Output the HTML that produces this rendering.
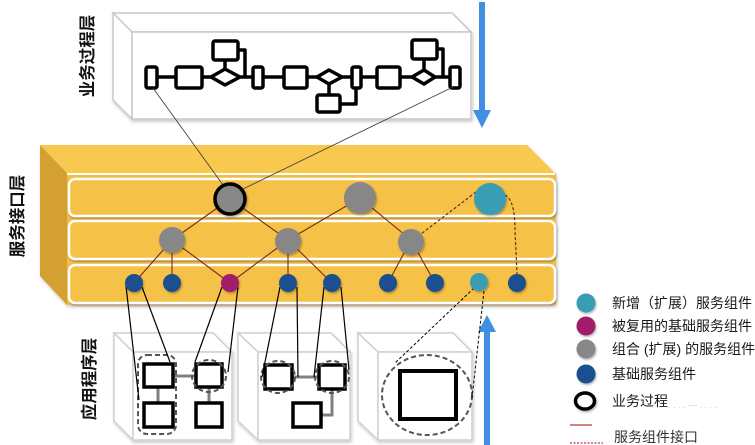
<!DOCTYPE html>
<html><head><meta charset="utf-8">
<style>
html,body{margin:0;padding:0;background:#fff;}
svg{display:block;}
text{font-family:"Liberation Sans","Noto Sans CJK SC",sans-serif;}
</style></head>
<body>
<svg width="755" height="445" viewBox="0 0 755 445" xmlns="http://www.w3.org/2000/svg">
<defs>
<filter id="sh" x="-10%" y="-10%" width="130%" height="130%"><feDropShadow dx="1" dy="2" stdDeviation="1.5" flood-color="#000" flood-opacity="0.22"/></filter>
<filter id="sh2" x="-20%" y="-20%" width="150%" height="150%"><feDropShadow dx="1" dy="1.5" stdDeviation="1" flood-color="#000" flood-opacity="0.3"/></filter>
</defs>

<!-- Vertical labels -->
<text transform="translate(93,56) rotate(-90)" text-anchor="middle" font-size="16.5" font-weight="bold" fill="#111">业务过程层</text>
<text transform="translate(23,216) rotate(-90)" text-anchor="middle" font-size="16.5" font-weight="bold" fill="#111">服务接口层</text>
<text transform="translate(95,379) rotate(-90)" text-anchor="middle" font-size="16.5" font-weight="bold" fill="#111">应用程序层</text>

<!-- Top process box -->
<g filter="url(#sh)">
<polygon points="113,13 452,13 471,32 132,32" fill="#fff" stroke="#c8c8c8" stroke-width="1.5"/>
<polygon points="113,13 132,32 132,119 113,100" fill="#fff" stroke="#c8c8c8" stroke-width="1.5"/>
<rect x="132" y="32" width="339" height="87" fill="#fff" stroke="#c8c8c8" stroke-width="1.5"/>
</g>

<!-- Process diagram -->
<g stroke="#000" stroke-width="3.5" fill="#fff" stroke-linejoin="round">
<line x1="158" y1="77" x2="176" y2="77"/>
<line x1="202" y1="77" x2="211" y2="77"/>
<line x1="240" y1="77" x2="252" y2="77"/>
<line x1="225" y1="60" x2="225" y2="69"/>
<polyline points="238,50 245,50 245,77" fill="none"/>
<line x1="263" y1="77" x2="283" y2="77"/>
<line x1="307" y1="77" x2="317" y2="77"/>
<line x1="342" y1="77" x2="352" y2="77"/>
<line x1="329" y1="84" x2="329" y2="95"/>
<polyline points="340,104 356,104 356,88" fill="none"/>
<line x1="360" y1="77" x2="377" y2="77"/>
<line x1="400" y1="77" x2="412" y2="77"/>
<line x1="434" y1="77" x2="450" y2="77"/>
<line x1="424" y1="59" x2="424" y2="70"/>
<polyline points="437,49 443,49 443,77" fill="none"/>

<rect x="146" y="67" width="11" height="21" rx="2"/>
<rect x="176" y="67" width="26" height="21" rx="2"/>
<polygon points="211,77 225,69 240,77 225,85"/>
<rect x="213" y="41" width="25" height="19" rx="2"/>
<rect x="253" y="67" width="10" height="21" rx="2"/>
<rect x="284" y="67" width="23" height="21" rx="2"/>
<polygon points="317,77 329,70 342,77 329,84"/>
<rect x="317" y="95" width="23" height="17" rx="2"/>
<rect x="352" y="67" width="9" height="21" rx="2"/>
<rect x="377" y="67" width="23" height="21" rx="2"/>
<polygon points="412,77 424,70 435,77 424,84"/>
<rect x="412" y="40" width="25" height="19" rx="2"/>
<rect x="450" y="67" width="10" height="21" rx="2"/>
</g>

<!-- Blue arrows -->
<rect x="479" y="2" width="6" height="112" fill="#3f8fe3"/>
<polygon points="473,110 491,110 482,128" fill="#3f8fe3"/>
<rect x="484" y="328" width="6" height="117" fill="#3f8fe3"/>
<polygon points="478,332 496,332 487,315" fill="#3f8fe3"/>

<!-- Yellow service box -->
<g filter="url(#sh)">
<polygon points="40,145 527,145 555,173 67,173" fill="#f8c84f"/>
<polygon points="40,145 67,173 67,305 40,276" fill="#d4a032"/>
<rect x="67" y="173" width="489" height="132" fill="#f3bd44"/>
</g>
<line x1="67" y1="174" x2="555" y2="174" stroke="#fff" stroke-width="2"/>
<g filter="url(#sh2)" fill="#f5c146" stroke="#fff" stroke-width="2.5">
<rect x="69" y="179" width="486" height="37" rx="6"/>
<rect x="69" y="221" width="486" height="38" rx="6"/>
<rect x="69" y="265" width="486" height="38" rx="6"/>
</g>

<!-- Application boxes -->
<g filter="url(#sh)" fill="#fff" stroke="#cfcfcf" stroke-width="1.5">
<polygon points="114,333 213,333 232,352 133,352"/>
<polygon points="114,333 133,352 133,440 114,421"/>
<rect x="133" y="352" width="99" height="88"/>
<polygon points="238,333 331,333 350,352 258,352"/>
<polygon points="238,333 258,352 258,440 238,421"/>
<rect x="258" y="352" width="92" height="88"/>
<polygon points="358,333 453,333 472,352 378,352"/>
<polygon points="358,333 378,352 378,440 358,421"/>
<rect x="378" y="352" width="94" height="88"/>
</g>

<!-- App components -->
<g stroke="#808080" stroke-width="3" fill="none">
<line x1="173" y1="376" x2="196" y2="376"/>
<line x1="158" y1="387" x2="158" y2="403"/>
<line x1="209" y1="387" x2="209" y2="403"/>
<line x1="292" y1="377" x2="319" y2="377"/>
<polyline points="332,389 332,415 321,415"/>
</g>
<g stroke="#000" stroke-width="3.5" fill="#fff">
<rect x="144" y="364" width="29" height="23"/>
<rect x="144" y="403" width="29" height="24"/>
<rect x="196" y="364" width="26" height="23"/>
<rect x="196" y="403" width="26" height="24"/>
<rect x="265" y="365" width="27" height="24"/>
<rect x="319" y="365" width="26" height="24"/>
<rect x="293" y="403" width="28" height="24"/>
<rect x="400" y="371" width="56" height="48" stroke-width="4"/>
</g>
<g stroke="#555" stroke-width="2" fill="none" stroke-dasharray="5,3">
<rect x="138" y="355" width="38" height="79" rx="9"/>
<ellipse cx="209" cy="376" rx="17" ry="16"/>
<ellipse cx="278" cy="377" rx="17" ry="16"/>
<ellipse cx="332" cy="377" rx="17" ry="16"/>
<ellipse cx="427" cy="395" rx="45" ry="40"/>
</g>

<!-- Black connector lines -->
<g stroke="#000" stroke-width="1.2" fill="none">
<line x1="126" y1="286" x2="139" y2="400"/>
<line x1="142" y1="287" x2="170" y2="362"/>
<line x1="222" y1="287" x2="195" y2="362"/>
<line x1="238" y1="287" x2="228" y2="372"/>
<line x1="280" y1="287" x2="262" y2="377"/>
<line x1="297" y1="287" x2="298" y2="377"/>
<line x1="324" y1="287" x2="314" y2="377"/>
<line x1="341" y1="287" x2="349" y2="370"/>
</g>
<g stroke="#000" stroke-width="1" fill="none" stroke-dasharray="3,2">
<line x1="474" y1="288" x2="395" y2="363"/>
<line x1="484" y1="291" x2="472" y2="398"/>
</g>

<!-- Process to service lines -->
<g stroke="#444" stroke-width="0.9">
<line x1="153" y1="88" x2="223" y2="185"/>
<line x1="453" y1="87" x2="243" y2="189"/>
</g>

<!-- Service interface lines -->
<g stroke="#7a2a1a" stroke-width="1.1" fill="none">
<line x1="230" y1="199" x2="172" y2="240"/>
<line x1="230" y1="199" x2="288" y2="240"/>
<line x1="360" y1="198" x2="288" y2="240"/>
<line x1="360" y1="198" x2="411" y2="240"/>
<line x1="172" y1="240" x2="134" y2="283"/>
<line x1="172" y1="240" x2="172" y2="283"/>
<line x1="172" y1="240" x2="230" y2="283"/>
<line x1="288" y1="240" x2="230" y2="283"/>
<line x1="288" y1="240" x2="288" y2="283"/>
<line x1="288" y1="240" x2="332" y2="283"/>
<line x1="411" y1="240" x2="388" y2="283"/>
<line x1="411" y1="240" x2="435" y2="283"/>
</g>
<g stroke="#6a2a1a" stroke-width="1.2" fill="none" stroke-dasharray="3,2">
<line x1="476" y1="192" x2="421" y2="234"/>
<path d="M505,195 Q515,200 515,230 L517,274"/>
</g>

<!-- Nodes -->
<g filter="url(#sh2)">
<circle cx="230" cy="199" r="15" fill="#878787" stroke="#000" stroke-width="3.5"/>
<circle cx="360" cy="198" r="16" fill="#878787"/>
<circle cx="490" cy="199" r="16" fill="#3b9db3"/>
<circle cx="172" cy="240" r="13" fill="#878787"/>
<circle cx="288" cy="241" r="13" fill="#878787"/>
<circle cx="411" cy="242" r="13" fill="#878787"/>
<circle cx="134" cy="283" r="9" fill="#1d4f8f"/>
<circle cx="172" cy="283" r="9" fill="#1d4f8f"/>
<circle cx="230" cy="283" r="9" fill="#a21f6c"/>
<circle cx="288" cy="283" r="9" fill="#1d4f8f"/>
<circle cx="332" cy="283" r="9" fill="#1d4f8f"/>
<circle cx="388" cy="283" r="9" fill="#1d4f8f"/>
<circle cx="435" cy="283" r="9" fill="#1d4f8f"/>
<circle cx="479" cy="282" r="9" fill="#3b9db3"/>
<circle cx="517" cy="283" r="9" fill="#1d4f8f"/>
</g>

<!-- Legend -->
<g filter="url(#sh2)">
<circle cx="586" cy="303" r="9.5" fill="#3b9db3"/>
<circle cx="586" cy="326" r="9.5" fill="#a21f6c"/>
<circle cx="586" cy="349" r="9.5" fill="#878787"/>
<circle cx="586" cy="374" r="9.5" fill="#1d4f8f"/>
<ellipse cx="585" cy="401" rx="9.5" ry="8" fill="#fff" stroke="#000" stroke-width="3.5"/>
</g>
<g font-size="14" fill="#1a1a1a">
<text x="612" y="308">新增（扩展）服务组件</text>
<text x="612" y="331">被复用的基础服务组件</text>
<text x="612" y="354">组合 (扩展) 的服务组件</text>
<text x="612" y="379">基础服务组件</text>
<text x="612" y="406">业务过程</text>
<text x="614" y="442" fill="#333">服务组件接口</text>
</g>
<text x="668" y="408" font-size="9" fill="#ccc">. . . .   —   . . . .</text>
<line x1="570" y1="425" x2="592" y2="425" stroke="#b33a3a" stroke-width="1.2"/>
<line x1="570" y1="443" x2="603" y2="443" stroke="#b33a3a" stroke-width="1.2" stroke-dasharray="2,1.5"/>
</svg>
</body></html>
